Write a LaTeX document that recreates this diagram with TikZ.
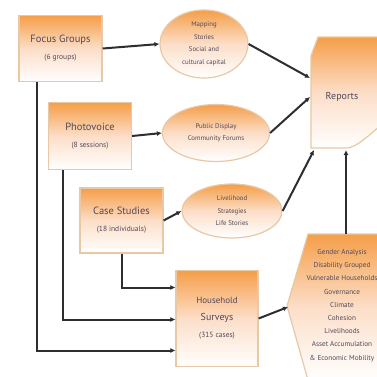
\documentclass[tikz,border=0pt]{standalone}
\usepackage{fontspec}
\setmainfont{PT Sans}
\usetikzlibrary{arrows.meta,shapes.geometric}
\definecolor{orng}{RGB}{245,158,72}
\definecolor{peach}{RGB}{252,222,200}
\definecolor{edge}{RGB}{232,200,165}
\definecolor{txt}{RGB}{80,72,88}
\definecolor{linec}{RGB}{45,45,50}
\newcommand{\ttlf}{\fontsize{10.5}{17}\selectfont}
\newcommand{\subf}{\fontsize{7.5}{16}\selectfont}
\begin{document}
\begin{tikzpicture}[x=1pt,y=-1pt,
  conn/.style={line width=2pt, draw=linec, -{Latex[length=5pt,width=5pt]}},
  box/.style={draw=edge, line width=1.2pt, top color=orng, bottom color=white, middle color=peach,
    minimum width=83pt, minimum height=66pt, align=center, text=txt, inner sep=0pt},
  oval/.style={ellipse, draw=edge, line width=1.2pt, top color=orng, bottom color=white, middle color=peach,
    inner sep=0pt, align=center, text=txt, font=\fontsize{6.8}{12.5}\selectfont},
]
\useasboundingbox (0,0) rectangle (377,376);
\fill[white] (0,0) rectangle (377,376);

% boxes
\node[box] (FG) at (60.5,48.5) {\ttlf Focus Groups\\[5pt]\subf (6 groups)};
\node[box, minimum height=67pt] (PV) at (90,136) {\ttlf Photovoice\\[5pt]\subf (8 sessions)};
\node[box, minimum height=65pt] (CS) at (121.5,220.5) {\ttlf Case Studies\\[5pt]\subf (18 individuals)};
\node[box, minimum height=96pt, minimum width=82pt] (HS) at (217,318.5) {\fontsize{9}{18}\selectfont Household\\[5pt] Surveys\\[5pt] \fontsize{7.5}{18}\selectfont (315 cases)};

% ellipses
\node[oval, minimum width=88pt, minimum height=68pt] (E1) at (204,44) {Mapping\\Stories\\Social and\\cultural capital};
\node[oval, minimum width=107pt, minimum height=57pt] (E2) at (216,133) {Public Display\\Community Forums};
\node[oval, minimum width=100pt, minimum height=54pt] (E3) at (232,211) {Livelihood\\Strategies\\Life Stories};

% Reports shape
\shade[draw=edge, line width=1.2pt, top color=orng, bottom color=white, middle color=peach]
  (311,56) -- (318,37) -- (380,37) -- (380,126) .. controls (368,136) and (358,146) .. (348,148) -- (311,148) -- cycle;
\node[text=txt, font=\fontsize{10}{11}\selectfont] (REP) at (342,97) {Reports};
\coordinate (R1) at (310,78);
\coordinate (R2) at (310,97);
\coordinate (R3) at (314,150);
\coordinate (R4) at (346,150);

% hexagon shape
\shade[draw=edge, line width=1.2pt, top color=orng, bottom color=white, middle color=peach]
  (308,234) -- (380,234) -- (380,380) -- (308,380) -- (287,306) -- cycle;
\node[text=txt, align=center, font=\fontsize{7.2}{13.2}\selectfont] (AN) at (342,305.5)
  {Gender Analysis\\Disability Grouped\\Vulnerable Households\\Governance\\Climate\\Cohesion\\Livelihoods\\Asset Accumulation\\\& Economic Mobility};
\coordinate (H1) at (346,234);
\coordinate (H2) at (288,307);

% connectors
\draw[conn] (FG.east) -- (E1.west);
\draw[conn] (PV.east) -- (E2.west);
\draw[conn] (CS.east) -- (E3.west);
\draw[conn] (E1.east) -- (R1);
\draw[conn] (E2.east) -- (R2);
\draw[conn] (E3.east) -- (R3);
\draw[conn] (H1) -- (R4);
\draw[conn] (HS.east) -- (H2);
\draw[conn] (CS.south) |- ([yshift=31pt]HS.west);
\draw[conn] (PV.south -| 63,0) |- ([yshift=-1pt]HS.west);
\draw[conn] (FG.south -| 37,0) |- ([yshift=-32pt]HS.west);
\end{tikzpicture}
\end{document}
